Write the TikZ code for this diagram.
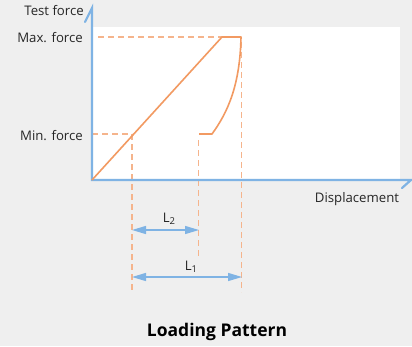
\documentclass[tikz,border=0pt]{standalone}
\usepackage{fontspec}
\setmainfont{Open Sans}
\usetikzlibrary{arrows.meta}
\definecolor{bg}{HTML}{EFEFEF}
\definecolor{axisblue}{HTML}{7FB3E4}
\definecolor{curveor}{HTML}{F29A62}
\definecolor{dashor}{HTML}{F5B48C}
\tikzset{
  axisline/.style={draw=axisblue,line width=2.2pt,line cap=round},
  curveline/.style={draw=curveor,line width=1.6pt,line join=round},
  guide/.style={draw=dashor,line width=1.1pt,dash pattern=on 6pt off 4pt},
  dimline/.style={draw=axisblue,line width=1.3pt,{Triangle[length=14pt,width=8pt]}-{Triangle[length=14pt,width=8pt]}},
  lab/.style={font=\fontsize{13.2}{15}\selectfont,inner sep=0pt,text=black!85}
}
\begin{document}
\begin{tikzpicture}[x=1pt,y=-1pt]
\useasboundingbox (0,0) rectangle (412,346);
\fill[bg] (0,0) rectangle (412,346);
\fill[white] (92,27) rectangle (400,180);
% coordinates
\coordinate (O) at (92,180);
\coordinate (ytop) at (92,8);
\coordinate (ybarb) at (85,22);
\coordinate (xend) at (411,180);
\coordinate (xbarb) at (402,188);
\coordinate (pk1) at (222,37);
\coordinate (pk2) at (241,37);
\coordinate (cv) at (212,134);
\coordinate (mn) at (199,134);
\coordinate (minpt) at (132,134);
% guides
\draw[guide] (98,37) -- (pk1);
\draw[guide] (92,134) -- (minpt);
\draw[guide] (minpt) -- (132,292);
\draw[guide] (198.5,140) -- (198.5,256);
\draw[guide] (241.5,42) -- (241.5,292);
% axes
\draw[axisline] (xbarb) -- (xend) -- (O) -- (ytop) -- (ybarb);
% curve
\draw[curveline] (O) -- (pk1) -- (pk2) .. controls (240,85) and (228,112) .. (cv) -- (mn);
% dimension arrows
\coordinate (l2a) at (132,230);
\coordinate (l2b) at (199,230);
\coordinate (l1a) at (132,277);
\coordinate (l1b) at (242,277);
\draw[dimline] (l2a) -- (l2b);
\draw[dimline] (l1a) -- (l1b);
\node[lab] (L2) at (169,219) {L\raisebox{-0.3ex}{\fontsize{9.5}{10}\selectfont 2}};
\node[lab] (L1) at (191,267) {L\raisebox{-0.3ex}{\fontsize{9.5}{10}\selectfont 1}};
% labels
\node[lab,anchor=east] (tf) at (84,11) {Test force};
\node[lab,anchor=east] (mx) at (83,38) {Max. force};
\node[lab,anchor=east] (mi) at (83,136) {Min. force};
\node[lab] (disp) at (357,199) {Displacement};
\node[font=\bfseries\fontsize{17.5}{20}\selectfont,inner sep=0pt] (title) at (217,332) {Loading Pattern};
\end{tikzpicture}
\end{document}
